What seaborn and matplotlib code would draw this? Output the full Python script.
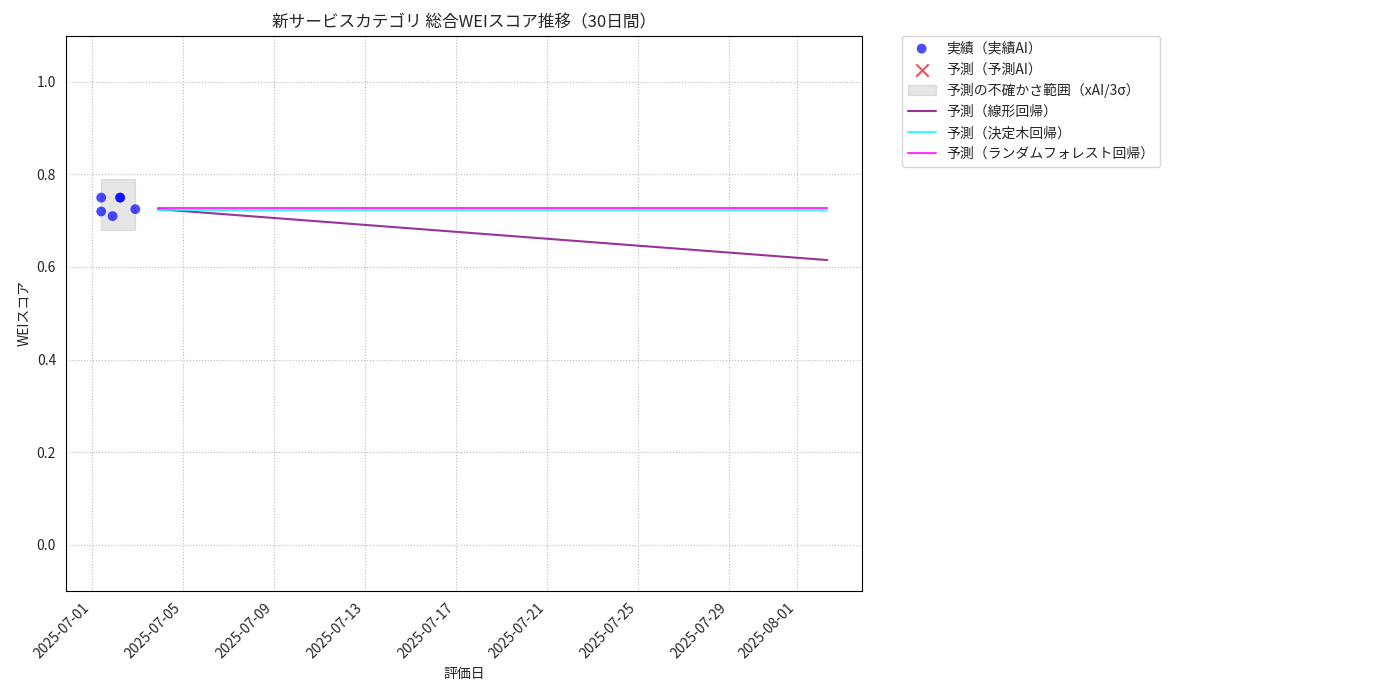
import matplotlib
matplotlib.use("Agg")
import matplotlib.pyplot as plt
import matplotlib.dates as mdates
import pandas as pd
import seaborn as sns

sns.set_style("whitegrid")
plt.rcParams['font.family'] = ['Noto Sans CJK JP', 'DejaVu Sans']

actual_dates = pd.to_datetime(["2025-07-01 10:00", "2025-07-01 10:00", "2025-07-01 22:00",
                               "2025-07-02 06:00", "2025-07-02 06:00", "2025-07-02 22:00"])
actual_scores = [0.750, 0.720, 0.710, 0.750, 0.750, 0.725]

band_dates = pd.to_datetime(["2025-07-01 10:00", "2025-07-02 22:00"])
band_low = [0.68, 0.68]
band_high = [0.79, 0.79]

pred_dates = pd.to_datetime(["2025-07-03 22:00", "2025-08-02 08:00"])
pred_linear = [0.725, 0.615]
pred_tree = [0.724, 0.724]
pred_rf = [0.728, 0.728]

actual_df = pd.DataFrame({"date": actual_dates, "score": actual_scores})

fig, ax = plt.subplots(figsize=(14, 7), dpi=100)
sns.scatterplot(data=actual_df, x="date", y="score", ax=ax, color="blue", alpha=0.7,
                s=50, edgecolor="none", label="実績（実績AI）", zorder=3)
ax.scatter([], [], marker="x", color="red", alpha=0.7, s=80, label="予測（予測AI）")
ax.fill_between(band_dates, band_low, band_high, color="gray", alpha=0.2,
                label="予測の不確かさ範囲（xAI/3σ）")
sns.lineplot(x=pred_dates, y=pred_linear, ax=ax, color="purple", alpha=0.8, label="予測（線形回帰）")
sns.lineplot(x=pred_dates, y=pred_tree, ax=ax, color="cyan", alpha=0.8, label="予測（決定木回帰）")
sns.lineplot(x=pred_dates, y=pred_rf, ax=ax, color="magenta", alpha=0.8, label="予測（ランダムフォレスト回帰）")

ax.set_ylim(-0.1, 1.1)
ax.set_xlim(mdates.date2num(pd.Timestamp("2025-06-29 20:40")),
            mdates.date2num(pd.Timestamp("2025-08-03 21:00")))
ax.xaxis.set_major_locator(mdates.DayLocator(bymonthday=[1, 5, 9, 13, 17, 21, 25, 29]))
ax.xaxis.set_major_formatter(mdates.DateFormatter("%Y-%m-%d"))
plt.setp(ax.get_xticklabels(), rotation=45, ha="right")
ax.grid(True, which="major", axis="both", linestyle=":", color="#bbbbbb")
ax.tick_params(labelsize=10)
for s in ax.spines.values():
    s.set_color("black")
ax.set_title("新サービスカテゴリ 総合WEIスコア推移（30日間）", fontsize=12)
ax.set_xlabel("評価日")
ax.set_ylabel("WEIスコア")
ax.legend(bbox_to_anchor=(1.05, 1), loc="upper left", borderaxespad=0, frameon=True)

fig.subplots_adjust(left=0.047, right=0.616, top=0.949, bottom=0.156)
fig.savefig("out.png")
